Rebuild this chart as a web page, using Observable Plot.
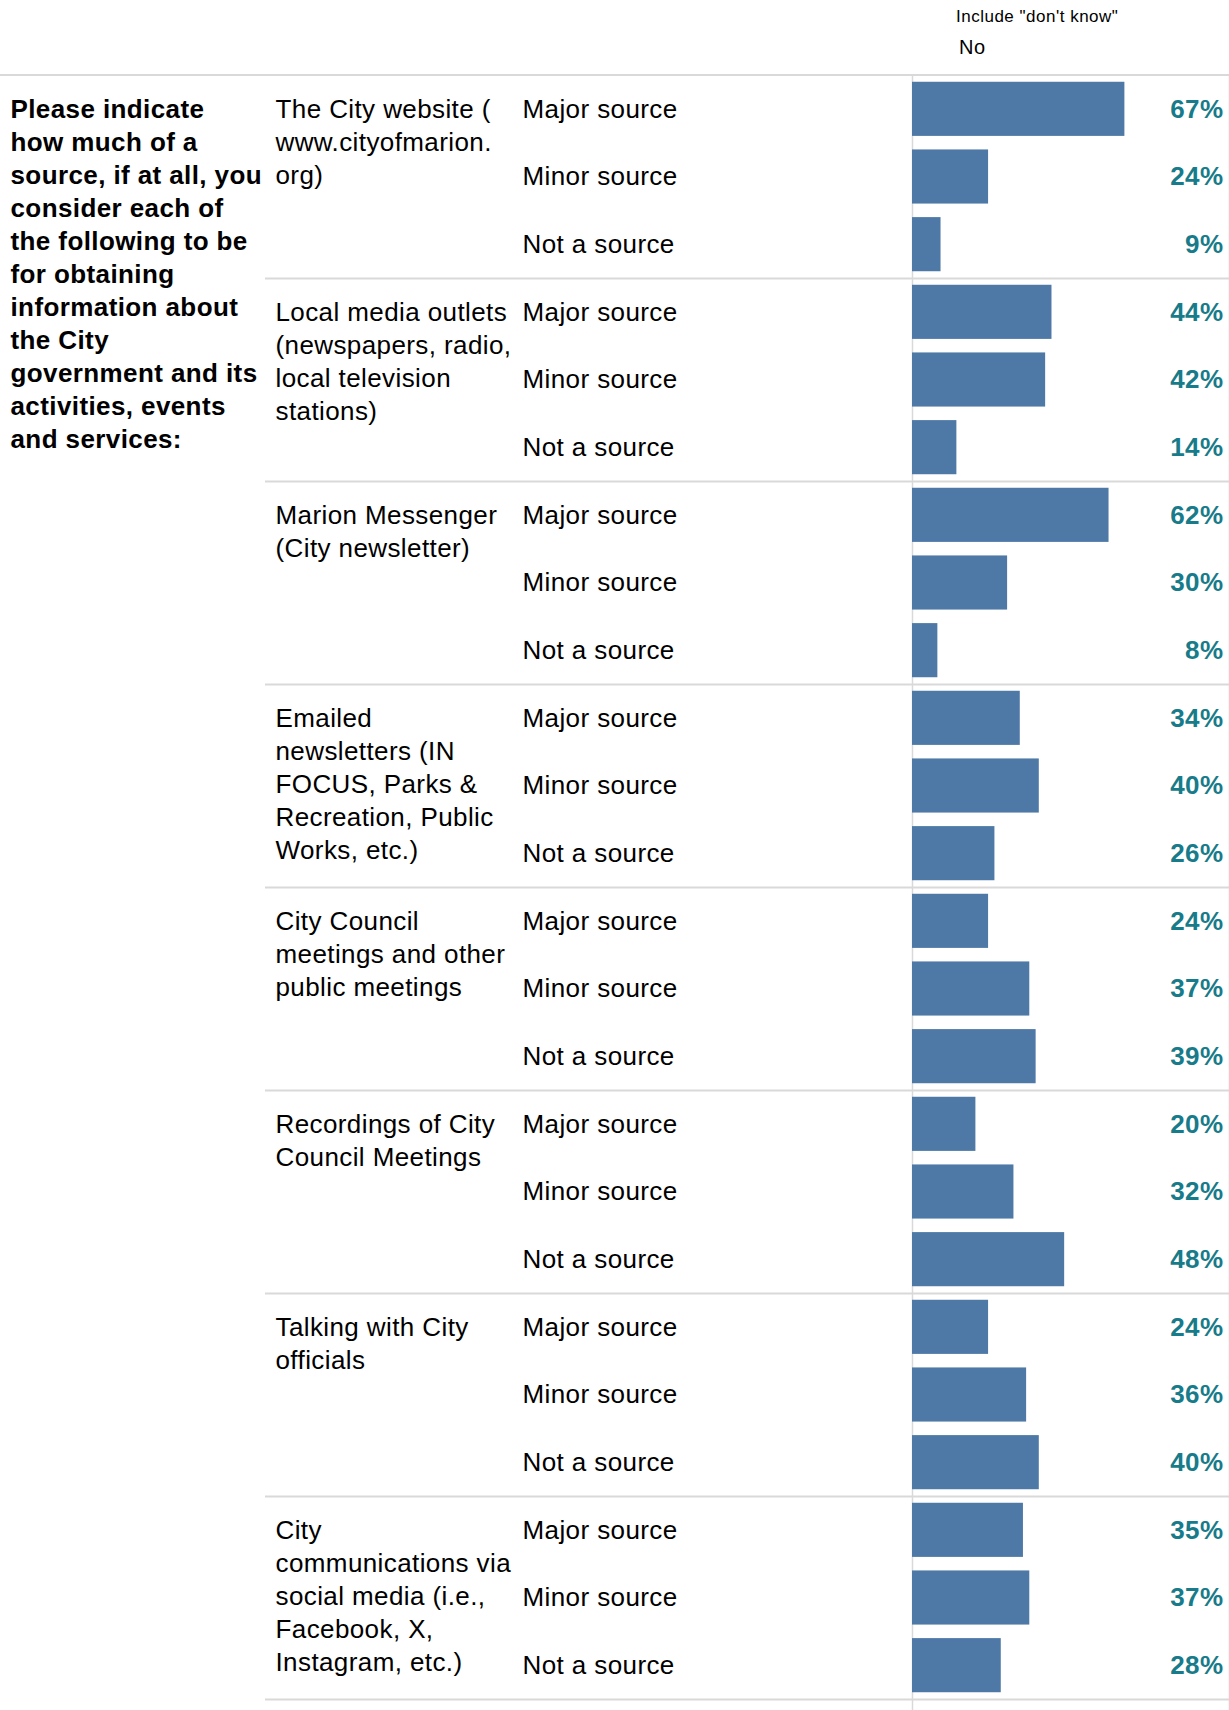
<!DOCTYPE html>
<html>
<head>
<meta charset="utf-8">
<script src="https://cdn.jsdelivr.net/npm/d3@7"></script>
<script src="https://cdn.jsdelivr.net/npm/@observablehq/plot@0.6"></script>
<style>
  html, body { margin: 0; padding: 0; background: #fff; }
  body { width: 1229px; font-family: "Liberation Sans", Arial, sans-serif; color: #000; }
  #header { position: relative; height: 74px; border-bottom: 2px solid #d9d9d9; }
  #hdr1 { position: absolute; left: 956px; top: 8px; font-size: 17px; line-height: 1; letter-spacing: 0.5px; }
  #hdr2 { position: absolute; left: 959px; top: 37px; font-size: 20px; line-height: 1; letter-spacing: 0.5px; }
  #chart svg { display: block; }
  g[aria-label="pct"] text { letter-spacing: 0; }
</style>
</head>
<body>
<div id="header"><div id="hdr1">Include "don't know"</div><div id="hdr2">No</div></div>
<div id="chart"></div>
<script>
// ---- data ----
const questionText = "Please indicate\nhow much of a\nsource, if at all, you\nconsider each of\nthe following to be\nfor obtaining\ninformation about\nthe City\ngovernment and its\nactivities, events\nand services:";
const groups = [
  "The City website (\nwww.cityofmarion.\norg)",
  "Local media outlets\n(newspapers, radio,\nlocal television\nstations)",
  "Marion Messenger\n(City newsletter)",
  "Emailed\nnewsletters (IN\nFOCUS, Parks &\nRecreation, Public\nWorks, etc.)",
  "City Council\nmeetings and other\npublic meetings",
  "Recordings of City\nCouncil Meetings",
  "Talking with City\nofficials",
  "City\ncommunications via\nsocial media (i.e.,\nFacebook, X,\nInstagram, etc.)"
];
const levels = ["Major source", "Minor source", "Not a source"];
const majorPct = [67, 44, 62, 34, 24, 20, 24, 35];
const minorPct = [24, 42, 30, 40, 37, 32, 36, 37];
const notPct   = [9, 14, 8, 26, 39, 48, 40, 28];

// ---- table built from the arrays ----
const series = [majorPct, minorPct, notPct];
const rows = [];
groups.forEach((g, gi) => {
  levels.forEach((lv, li) => {
    rows.push({id: `${gi}-${li}`, group: g, gi, level: lv, li, value: series[li][gi]});
  });
});
const firstRows = rows.filter(d => d.li === 0);
const lastRows = rows.filter(d => d.li === levels.length - 1);

const W = 1229, H = 1634;
const rowStep = 1624 / rows.length;
const fontFam = "'Liberation Sans', Arial, sans-serif";
const lineC = "#d9d9d9";
const FS = 26, LH = 33 / 26, DY = -15.2;

const chart = Plot.plot({
  width: W,
  height: H,
  marginLeft: 265,
  marginRight: 0,
  marginTop: 0,
  marginBottom: 0,
  style: {fontFamily: fontFam, background: "#fff", color: "#000", letterSpacing: "0.4px", overflow: "visible"},
  x: {domain: [0, 100], range: [912, 1229], axis: null},
  y: {type: "band", domain: rows.map(d => d.id), range: [-1, 1623], paddingInner: 0.2, paddingOuter: 0.1, round: false, axis: null},
  marks: [
    Plot.ruleY(lastRows, {y: "id", dy: rowStep / 2, stroke: lineC, strokeWidth: 2}),
    Plot.ruleX([0, 100], {stroke: lineC, strokeWidth: 1.5}),
    Plot.barX(rows, {x: "value", y: "id", fill: "#4e79a7"}),
    Plot.text(rows, {
      y: "id", text: d => `${d.value}%`, frameAnchor: "right", textAnchor: "end",
      dx: -6, dy: 0, fontSize: 26, fontWeight: "bold", fill: "#177b8a", ariaLabel: "pct"
    }),
    Plot.text(rows, {
      y: "id", text: "level", frameAnchor: "left", textAnchor: "start",
      dx: 257, lineAnchor: "top", lineHeight: LH, dy: DY, fontSize: FS, fill: "#000"
    }),
    Plot.text(firstRows, {
      y: "id", text: "group", frameAnchor: "left", textAnchor: "start",
      dx: 10, lineAnchor: "top", lineHeight: LH, dy: DY, fontSize: FS, fill: "#000"
    }),
    Plot.text([questionText], {
      y: [rows[0].id], text: d => d, frameAnchor: "left", textAnchor: "start",
      dx: -255, lineAnchor: "top", lineHeight: LH, dy: DY, fontSize: FS, fontWeight: "bold", fill: "#000"
    })
  ]
});
document.getElementById("chart").appendChild(chart);
</script>
</body>
</html>
